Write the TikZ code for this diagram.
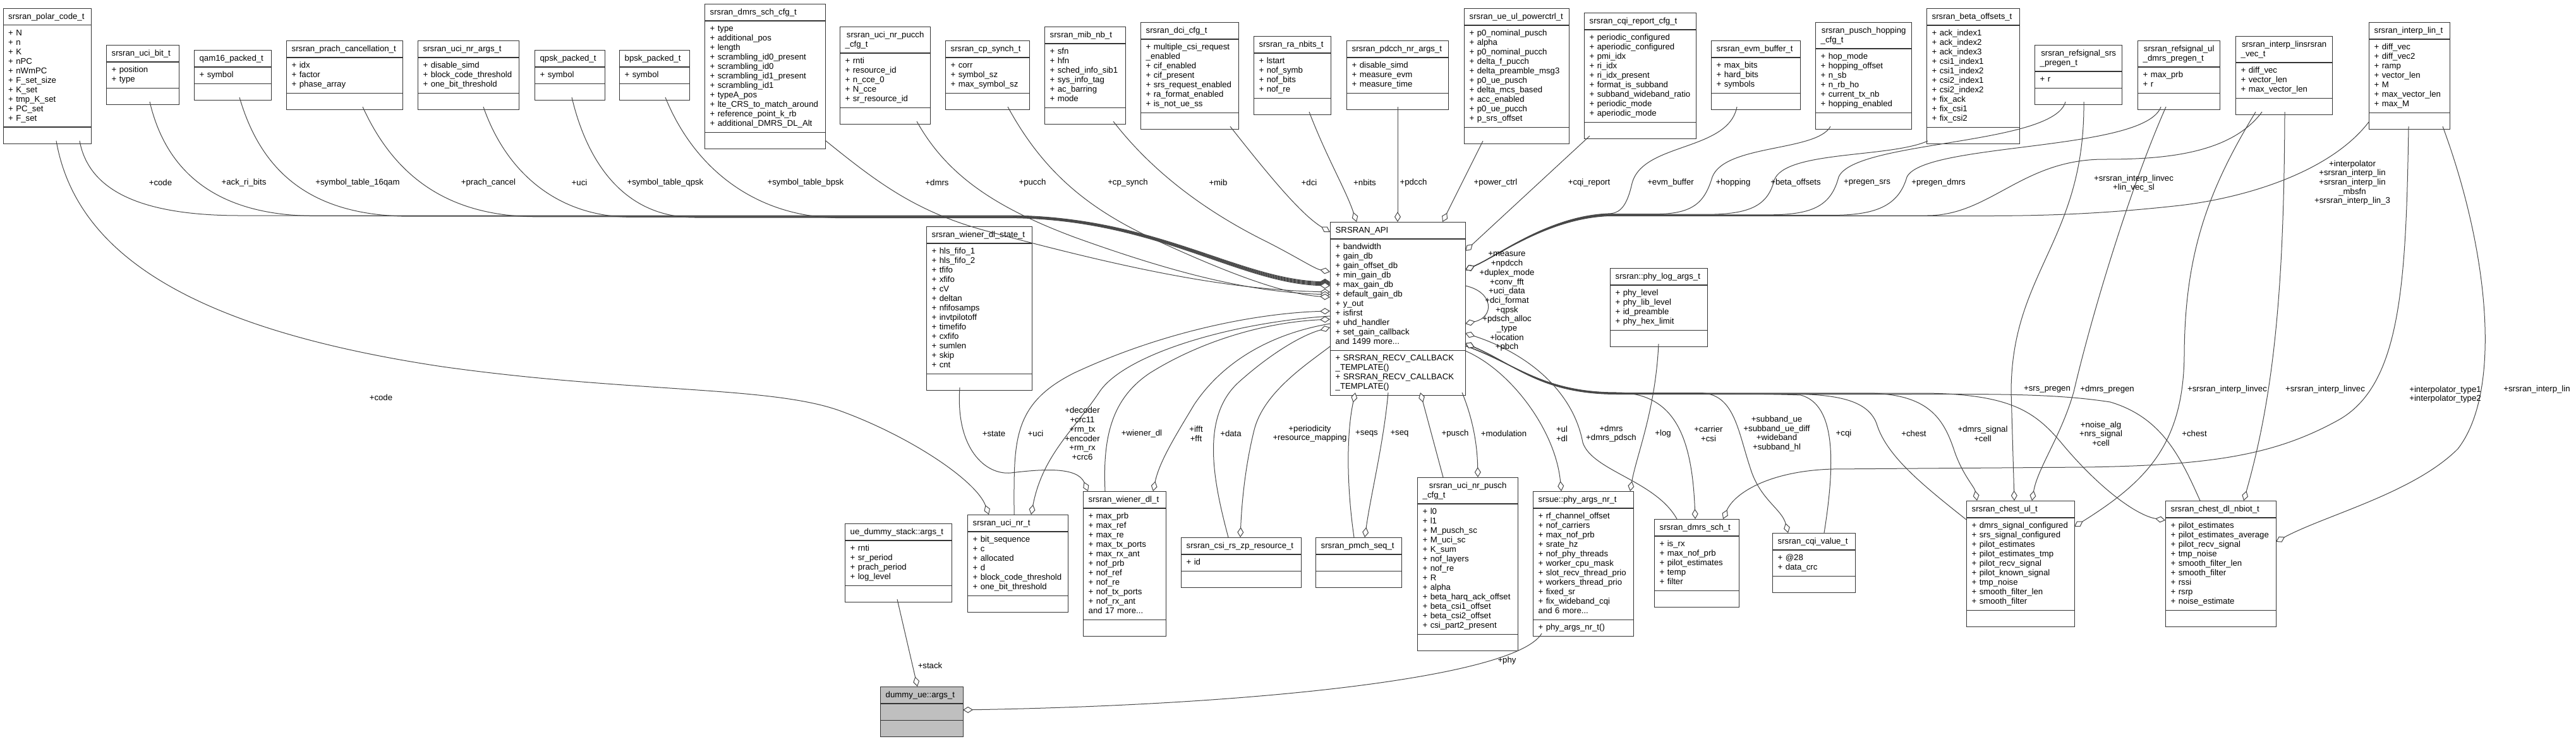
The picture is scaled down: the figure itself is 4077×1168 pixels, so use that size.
\documentclass[tikz,border=0pt]{standalone}
\usepackage{fontspec}
\setmainfont{Liberation Sans}
\usetikzlibrary{shapes.multipart,arrows.meta}
\newcommand\ms{\rule[-4pt]{0pt}{15pt}}
\tikzset{
  cls/.style={rectangle split, rectangle split parts=3, draw=black!80, line width=1.3pt,
    fill=white, inner xsep=8pt, inner ysep=5pt, text width=#1, align=left,
    anchor=north west, font=\fontsize{13.2}{15}\selectfont},
  dep/.style={draw=black!72, line width=1pt,
    -{Diamond[fill=white, length=16pt, width=10pt]}},
  lbl/.style={font=\fontsize{13.2}{14.7}\selectfont, align=center, inner sep=0pt},
}
\begin{document}
\begin{tikzpicture}[x=1pt,y=-1pt]
\fill[white] (0,0) rectangle (4077,1168);
\useasboundingbox (0,0) rectangle (4077,1168);

% ---------------- top row ----------------
\node[cls=123.5pt] (polar) at (4.5,12.7) {\centering\ms srsran\_polar\_code\_t\ms
 \nodepart{two}\ms + N\\+ n\\+ K\\+ nPC\\+ nWmPC\\+ F\_set\_size\\+ K\_set\\+ tmp\_K\_set\\+ PC\_set\\+ F\_set\ms
 \nodepart{three}\ms};
\node[cls=99pt] (ucibit) at (168,71) {\centering\ms srsran\_uci\_bit\_t\ms
 \nodepart{two}\ms + position\\+ type\ms \nodepart{three}\ms};
\node[cls=106pt] (qam) at (307,79) {\centering\ms qam16\_packed\_t\ms
 \nodepart{two}\ms + symbol\ms \nodepart{three}\ms};
\node[cls=168pt] (prach) at (453,64) {\centering\ms srsran\_prach\_cancellation\_t\ms
 \nodepart{two}\ms + idx\\+ factor\\+ phase\_array\ms \nodepart{three}\ms};
\node[cls=144pt] (ucia) at (661,64) {\centering\ms srsran\_uci\_nr\_args\_t\ms
 \nodepart{two}\ms + disable\_simd\\+ block\_code\_threshold\\+ one\_bit\_threshold\ms \nodepart{three}\ms};
\node[cls=95pt] (qpsk) at (846,79) {\centering\ms qpsk\_packed\_t\ms
 \nodepart{two}\ms + symbol\ms \nodepart{three}\ms};
\node[cls=95pt] (bpsk) at (980,79) {\centering\ms bpsk\_packed\_t\ms
 \nodepart{two}\ms + symbol\ms \nodepart{three}\ms};
\node[cls=175pt] (dmrscfg) at (1115,6) {\centering\ms srsran\_dmrs\_sch\_cfg\_t\ms
 \nodepart{two}\ms + type\\+ additional\_pos\\+ length\\+ scrambling\_id0\_present\\+ scrambling\_id0\\+ scrambling\_id1\_present\\+ scrambling\_id1\\+ typeA\_pos\\+ lte\_CRS\_to\_match\_around\\+ reference\_point\_k\_rb\\+ additional\_DMRS\_DL\_Alt\ms
 \nodepart{three}\ms};
\node[cls=127pt] (pucchcfg) at (1329,42) {\centering\ms srsran\_uci\_nr\_pucch\\\_cfg\_t\ms
 \nodepart{two}\ms + rnti\\+ resource\_id\\+ n\_cce\_0\\+ N\_cce\\+ sr\_resource\_id\ms \nodepart{three}\ms};
\node[cls=117pt] (cps) at (1496,64) {\centering\ms srsran\_cp\_synch\_t\ms
 \nodepart{two}\ms + corr\\+ symbol\_sz\\+ max\_symbol\_sz\ms \nodepart{three}\ms};
\node[cls=112pt] (mib) at (1653,42) {\centering\ms srsran\_mib\_nb\_t\ms
 \nodepart{two}\ms + sfn\\+ hfn\\+ sched\_info\_sib1\\+ sys\_info\_tag\\+ ac\_barring\\+ mode\ms \nodepart{three}\ms};
\node[cls=139pt] (dci) at (1805,35) {\centering\ms srsran\_dci\_cfg\_t\ms
 \nodepart{two}\ms + multiple\_csi\_request\\\_enabled\\+ cif\_enabled\\+ cif\_present\\+ srs\_request\_enabled\\+ ra\_format\_enabled\\+ is\_not\_ue\_ss\ms \nodepart{three}\ms};
\node[cls=106pt] (ranb) at (1984,57) {\centering\ms srsran\_ra\_nbits\_t\ms
 \nodepart{two}\ms + lstart\\+ nof\_symb\\+ nof\_bits\\+ nof\_re\ms \nodepart{three}\ms};
\node[cls=145pt] (pdcch) at (2131,64) {\centering\ms srsran\_pdcch\_nr\_args\_t\ms
 \nodepart{two}\ms + disable\_simd\\+ measure\_evm\\+ measure\_time\ms \nodepart{three}\ms};
\node[cls=150pt] (pwr) at (2317,13) {\centering\ms srsran\_ue\_ul\_powerctrl\_t\ms
 \nodepart{two}\ms + p0\_nominal\_pusch\\+ alpha\\+ p0\_nominal\_pucch\\+ delta\_f\_pucch\\+ delta\_preamble\_msg3\\+ p0\_ue\_pusch\\+ delta\_mcs\_based\\+ acc\_enabled\\+ p0\_ue\_pucch\\+ p\_srs\_offset\ms
 \nodepart{three}\ms};
\node[cls=161pt] (cqir) at (2507,20) {\centering\ms srsran\_cqi\_report\_cfg\_t\ms
 \nodepart{two}\ms + periodic\_configured\\+ aperiodic\_configured\\+ pmi\_idx\\+ ri\_idx\\+ ri\_idx\_present\\+ format\_is\_subband\\+ subband\_wideband\_ratio\\+ periodic\_mode\\+ aperiodic\_mode\ms
 \nodepart{three}\ms};
\node[cls=125pt] (evm) at (2708,64) {\centering\ms srsran\_evm\_buffer\_t\ms
 \nodepart{two}\ms + max\_bits\\+ hard\_bits\\+ symbols\ms \nodepart{three}\ms};
\node[cls=136pt] (hop) at (2873,35) {\centering\ms srsran\_pusch\_hopping\\\_cfg\_t\ms
 \nodepart{two}\ms + hop\_mode\\+ hopping\_offset\\+ n\_sb\\+ n\_rb\_ho\\+ current\_tx\_nb\\+ hopping\_enabled\ms \nodepart{three}\ms};
\node[cls=131pt] (beta) at (3049,13) {\centering\ms srsran\_beta\_offsets\_t\ms
 \nodepart{two}\ms + ack\_index1\\+ ack\_index2\\+ ack\_index3\\+ csi1\_index1\\+ csi1\_index2\\+ csi2\_index1\\+ csi2\_index2\\+ fix\_ack\\+ fix\_csi1\\+ fix\_csi2\ms
 \nodepart{three}\ms};
\node[cls=122pt] (srsp) at (3220,71) {\centering\ms srsran\_refsignal\_srs\\\_pregen\_t\ms
 \nodepart{two}\ms + r\ms \nodepart{three}\ms};
\node[cls=114pt] (dmrsp) at (3383,64) {\centering\ms srsran\_refsignal\_ul\\\_dmrs\_pregen\_t\ms
 \nodepart{two}\ms + max\_prb\\+ r\ms \nodepart{three}\ms};
\node[cls=137pt] (linvec) at (3538,57) {\centering\ms srsran\_interp\_linsrsran\\\_vec\_t\ms
 \nodepart{two}\ms + diff\_vec\\+ vector\_len\\+ max\_vector\_len\ms \nodepart{three}\ms};
\node[cls=112pt] (ilin) at (3749,35) {\centering\ms srsran\_interp\_lin\_t\ms
 \nodepart{two}\ms + diff\_vec\\+ diff\_vec2\\+ ramp\\+ vector\_len\\+ M\\+ max\_vector\_len\\+ max\_M\ms \nodepart{three}\ms};

% ---------------- middle ----------------
\node[cls=198pt] (api) at (2105,351) {\centering\ms SRSRAN\_API\ms
 \nodepart{two}\ms + bandwidth\\+ gain\_db\\+ gain\_offset\_db\\+ min\_gain\_db\\+ max\_gain\_db\\+ default\_gain\_db\\+ y\_out\\+ isfirst\\+ uhd\_handler\\+ set\_gain\_callback\\and 1499 more...\ms
 \nodepart{three}\ms + SRSRAN\_RECV\_CALLBACK\\\_TEMPLATE()\\+ SRSRAN\_RECV\_CALLBACK\\\_TEMPLATE()\ms};
\node[cls=151pt] (wst) at (1466,358) {\centering\ms srsran\_wiener\_dl\_state\_t\ms
 \nodepart{two}\ms + hls\_fifo\_1\\+ hls\_fifo\_2\\+ tfifo\\+ xfifo\\+ cV\\+ deltan\\+ nfifosamps\\+ invtpilotoff\\+ timefifo\\+ cxfifo\\+ sumlen\\+ skip\\+ cnt\ms
 \nodepart{three}\ms};
\node[cls=138pt] (plog) at (2548,424) {\centering\ms srsran::phy\_log\_args\_t\ms
 \nodepart{two}\ms + phy\_level\\+ phy\_lib\_level\\+ id\_preamble\\+ phy\_hex\_limit\ms \nodepart{three}\ms};

% ---------------- bottom row ----------------
\node[cls=153pt] (dstack) at (1337,828) {\centering\ms ue\_dummy\_stack::args\_t\ms
 \nodepart{two}\ms + rnti\\+ sr\_period\\+ prach\_period\\+ log\_level\ms \nodepart{three}\ms};
\node[cls=143pt] (ucinr) at (1531,814) {\centering\ms srsran\_uci\_nr\_t\ms
 \nodepart{two}\ms + bit\_sequence\\+ c\\+ allocated\\+ d\\+ block\_code\_threshold\\+ one\_bit\_threshold\ms \nodepart{three}\ms};
\node[cls=115pt] (wdl) at (1714,777) {\centering\ms srsran\_wiener\_dl\_t\ms
 \nodepart{two}\ms + max\_prb\\+ max\_ref\\+ max\_re\\+ max\_tx\_ports\\+ max\_rx\_ant\\+ nof\_prb\\+ nof\_ref\\+ nof\_re\\+ nof\_tx\_ports\\+ nof\_rx\_ant\\and 17 more...\ms
 \nodepart{three}\ms};
\node[cls=174pt] (csizp) at (1869,850) {\centering\ms srsran\_csi\_rs\_zp\_resource\_t\ms
 \nodepart{two}\ms + id\ms \nodepart{three}\ms};
\node[cls=120pt] (pmch) at (2082,850) {\centering\ms srsran\_pmch\_seq\_t\ms
 \nodepart{two}\ms \nodepart{three}\ms};
\node[cls=143pt] (pusch) at (2243,755) {\centering\ms srsran\_uci\_nr\_pusch\\\_cfg\_t\ms
 \nodepart{two}\ms + l0\\+ l1\\+ M\_pusch\_sc\\+ M\_uci\_sc\\+ K\_sum\\+ nof\_layers\\+ nof\_re\\+ R\\+ alpha\\+ beta\_harq\_ack\_offset\\+ beta\_csi1\_offset\\+ beta\_csi2\_offset\\+ csi\_part2\_present\ms
 \nodepart{three}\ms};
\node[cls=143pt] (phya) at (2426,777) {\centering\ms srsue::phy\_args\_nr\_t\ms
 \nodepart{two}\ms + rf\_channel\_offset\\+ nof\_carriers\\+ max\_nof\_prb\\+ srate\_hz\\+ nof\_phy\_threads\\+ worker\_cpu\_mask\\+ slot\_recv\_thread\_prio\\+ workers\_thread\_prio\\+ fixed\_sr\\+ fix\_wideband\_cqi\\and 6 more...\ms
 \nodepart{three}\ms + phy\_args\_nr\_t()\ms};
\node[cls=118pt] (dsch) at (2618,821) {\centering\ms srsran\_dmrs\_sch\_t\ms
 \nodepart{two}\ms + is\_rx\\+ max\_nof\_prb\\+ pilot\_estimates\\+ temp\\+ filter\ms \nodepart{three}\ms};
\node[cls=115pt] (cqiv) at (2805,843) {\centering\ms srsran\_cqi\_value\_t\ms
 \nodepart{two}\ms + @28\\+ data\_crc\ms \nodepart{three}\ms};
\node[cls=155pt] (chul) at (3112,792) {\centering\ms srsran\_chest\_ul\_t\ms
 \nodepart{two}\ms + dmrs\_signal\_configured\\+ srs\_signal\_configured\\+ pilot\_estimates\\+ pilot\_estimates\_tmp\\+ pilot\_recv\_signal\\+ pilot\_known\_signal\\+ tmp\_noise\\+ smooth\_filter\_len\\+ smooth\_filter\ms
 \nodepart{three}\ms};
\node[cls=159pt] (nbiot) at (3427,792) {\centering\ms srsran\_chest\_dl\_nbiot\_t\ms
 \nodepart{two}\ms + pilot\_estimates\\+ pilot\_estimates\_average\\+ pilot\_recv\_signal\\+ tmp\_noise\\+ smooth\_filter\_len\\+ smooth\_filter\\+ rssi\\+ rsrp\\+ noise\_estimate\ms
 \nodepart{three}\ms};
\node[cls=115pt, fill=black!25] (dummy) at (1393,1086) {\centering\ms dummy\_ue::args\_t\ms
 \nodepart{two}\ms \nodepart{three}\ms};

% ---------------- edges: top-left bundle into API ----------------
\draw[dep] ([shift={(121.5,210)}]polar.north west) .. controls (140,300) and (220,341) .. (380,341) -- (1600,341) .. controls (1830,343) and (1960,442) .. ([shift={(0,95)}]api.north west);
\draw[dep] ([shift={(69,90)}]ucibit.north west) .. controls (260,260) and (330,341.6) .. (500,341.6) -- (1600,341.6) .. controls (1830,343.6) and (1960,443) .. ([shift={(0,96)}]api.north west);
\draw[dep] ([shift={(72,75)}]qam.north west) .. controls (410,260) and (480,342.2) .. (650,342.2) -- (1600,342.2) .. controls (1830,344.2) and (1960,444) .. ([shift={(0,97)}]api.north west);
\draw[dep] ([shift={(121,105)}]prach.north west) .. controls (620,270) and (700,342.8) .. (850,342.8) -- (1600,342.8) .. controls (1830,344.8) and (1960,445) .. ([shift={(0,98)}]api.north west);
\draw[dep] ([shift={(104,105)}]ucia.north west) .. controls (800,270) and (880,343.4) .. (1000,343.4) -- (1600,343.4) .. controls (1830,345.4) and (1960,446) .. ([shift={(0,99)}]api.north west);
\draw[dep] ([shift={(59,75)}]qpsk.north west) .. controls (930,260) and (990,344) .. (1100,344) -- (1600,344) .. controls (1830,346) and (1960,447) .. ([shift={(0,100)}]api.north west);
\draw[dep] ([shift={(73,75)}]bpsk.north west) .. controls (1100,270) and (1200,344.6) .. (1330,344.6) -- (1600,344.6) .. controls (1830,346.6) and (1960,448) .. ([shift={(0,101)}]api.north west);
\draw[dep] ([shift={(191,216)}]dmrscfg.north west) .. controls (1390,290) and (1450,335) .. (1560,365) .. controls (1800,430) and (1950,458) .. ([shift={(0,111)}]api.north west);
\draw[dep] ([shift={(122,150)}]pucchcfg.north west) .. controls (1500,280) and (1580,330) .. (1700,375) .. controls (1880,440) and (1990,462) .. ([shift={(0,115)}]api.north west);
\draw[dep] ([shift={(99,105)}]cps.north west) .. controls (1650,270) and (1720,330) .. (1830,380) .. controls (1960,440) and (2040,466) .. ([shift={(0,119)}]api.north west);
\draw[dep] ([shift={(109,150)}]mib.north west) .. controls (1830,280) and (1920,340) .. (2000,380) .. controls (2050,405) and (2080,425) .. ([shift={(0,79)}]api.north west);
\draw[dep] ([shift={(142,165)}]dci.north west) .. controls (2010,280) and (2060,340) .. ([shift={(0,16)}]api.north west);
\draw[dep] ([shift={(88,120)}]ranb.north west) .. controls (2100,250) and (2130,300) .. ([shift={(42,0)}]api.north west);
\draw[dep] ([shift={(81,105)}]pdcch.north west) -- ([shift={(107,0)}]api.north west);
\draw[dep] ([shift={(30,210)}]pwr.north west) -- ([shift={(178,0)}]api.north west);

% ---------------- edges: top-right bundle into API ----------------
\draw[dep] ([shift={(9,195)}]cqir.north west) -- ([shift={(214,46)}]api.north west);
\draw[dep] ([shift={(41,105)}]evm.north west) .. controls (2735,240) and (2600,225) .. (2583,290) .. controls (2575,325) and (2565,338) .. (2545,338) .. controls (2450,342) and (2370,405) .. ([shift={(214,76)}]api.north west);
\draw[dep] ([shift={(24,165)}]hop.north west) .. controls (2875,240) and (2730,228) .. (2710,280) .. controls (2698,320) and (2680,338.6) .. (2620,338.6) -- (2545,338.6) .. controls (2450,342.6) and (2370,405) .. ([shift={(214,76)}]api.north west);
\draw[dep] ([shift={(2,210)}]beta.north west) .. controls (2990,250) and (2825,238) .. (2808,285) .. controls (2798,325) and (2770,339.2) .. (2700,339.2) -- (2545,339.2) .. controls (2450,343.2) and (2370,405) .. ([shift={(214,76)}]api.north west);
\draw[dep] ([shift={(49,90)}]srsp.north west) .. controls (3250,230) and (2935,222) .. (2910,280) .. controls (2898,325) and (2870,339.8) .. (2800,339.8) -- (2545,339.8) .. controls (2450,343.8) and (2370,405) .. ([shift={(214,76)}]api.north west);
\draw[dep] ([shift={(37,105)}]dmrsp.north west) .. controls (3395,240) and (3045,225) .. (3018,280) .. controls (3005,325) and (2970,340.4) .. (2900,340.4) -- (2545,340.4) .. controls (2450,344.4) and (2370,405) .. ([shift={(214,76)}]api.north west);
\draw[dep] ([shift={(42,120)}]linvec.north west) .. controls (3530,245) and (3420,252) .. (3330,252) .. controls (3200,252) and (3150,341) .. (3050,341) -- (2545,341) .. controls (2450,345) and (2370,405) .. ([shift={(214,76)}]api.north west);
\draw[dep] ([shift={(0,158)}]ilin.north west) .. controls (3690,270) and (3560,312) .. (3450,325) .. controls (3300,341.6) and (3200,341.6) .. (3100,341.6) -- (2545,341.6) .. controls (2450,345.6) and (2370,405) .. ([shift={(214,76)}]api.north west);

% self loop
\draw[dep] ([shift={(214,101)}]api.north west) .. controls (2365,462) and (2365,502) .. ([shift={(214,161)}]api.north west);

% ---------------- edges: lower right ----------------
\draw[dep] ([shift={(214,204)}]api.north west) .. controls (2390,585) and (2462,680) .. ([shift={(45,0)}]phya.north west);
\draw[dep] ([shift={(36,0)}]dsch.north west) .. controls (2620,760) and (2520,745) .. (2505,700) .. controls (2490,620) and (2420,560) .. ([shift={(214,176)}]api.north west);
\draw[dep] ([shift={(77,120)}]plog.north west) .. controls (2620,650) and (2590,720) .. ([shift={(154,0)}]phya.north west);
\draw[dep] ([shift={(214,196)}]api.north west) .. controls (2400,575) and (2440,621) .. (2560,621) .. controls (2650,622) and (2678,690) .. ([shift={(65,0)}]dsch.north west);
\draw[dep] ([shift={(214,196)}]api.north west) .. controls (2400,575) and (2440,621.5) .. (2560,621.5) -- (2690,621.5) .. controls (2745,622) and (2750,680) .. (2770,740) .. controls (2785,790) and (2820,805) .. ([shift={(25,0)}]cqiv.north west);
\draw[dep] ([shift={(82,0)}]cqiv.north west) .. controls (2905,730) and (2905,640) .. (2850,625) .. controls (2800,622.5) and (2650,622.5) .. (2560,622.5) .. controls (2440,622.5) and (2400,578) .. ([shift={(214,192)}]api.north west);
\draw[dep] ([shift={(0,30)}]chul.north west) .. controls (3040,765) and (2985,720) .. (2970,670) .. controls (2955,630) and (2900,623) .. (2820,623) -- (2560,623) .. controls (2440,623) and (2400,578) .. ([shift={(214,192)}]api.north west);
\draw[dep] ([shift={(214,196)}]api.north west) .. controls (2400,575) and (2440,622) .. (2560,622) -- (2960,622) .. controls (3050,624) and (3075,660) .. (3092,710) .. controls (3105,750) and (3125,770) .. ([shift={(17,0)}]chul.north west);
\draw[dep] ([shift={(78,90)}]srsp.north west) .. controls (3300,380) and (3183,430) .. (3183,620) -- ([shift={(76,0)}]chul.north west);
\draw[dep] ([shift={(45,105)}]dmrsp.north west) .. controls (3370,300) and (3310,500) .. (3282,620) .. controls (3262,690) and (3225,740) .. ([shift={(104,0)}]chul.north west);
\draw[dep] ([shift={(32,120)}]linvec.north west) .. controls (3495,300) and (3458,400) .. (3457,560) .. controls (3456,700) and (3400,760) .. ([shift={(171,41)}]chul.north west);
\draw[dep] ([shift={(214,196)}]api.north west) .. controls (2400,575) and (2440,622) .. (2560,622) -- (3050,622) .. controls (3180,624) and (3220,650) .. (3262,700) .. controls (3320,770) and (3380,815) .. ([shift={(0,31)}]nbiot.north west);
\draw[dep] ([shift={(55,0)}]nbiot.north west) .. controls (3450,720) and (3420,660) .. (3340,636) .. controls (3250,622) and (3150,623.5) .. (3000,623.5) -- (2560,623.5) .. controls (2440,623.5) and (2400,578) .. ([shift={(214,192)}]api.north west);
\draw[dep] ([shift={(78,120)}]linvec.north west) .. controls (3615,450) and (3600,620) .. ([shift={(124,0)}]nbiot.north west);
\draw[dep] ([shift={(63,165)}]ilin.north west) .. controls (3808,450) and (3800,610) .. (3700,665) .. controls (3600,720) and (3500,736) .. (3300,739) -- (2900,742) .. controls (2800,745) and (2745,780) .. ([shift={(109,0)}]dsch.north west);
\draw[dep] ([shift={(117,165)}]ilin.north west) .. controls (3940,400) and (3960,620) .. (3890,710) .. controls (3820,780) and (3680,815) .. ([shift={(175,65)}]nbiot.north west);

% ---------------- edges: lower left ----------------
\draw[dep] ([shift={(84.5,210)}]polar.north west) .. controls (120,400) and (300,520) .. (700,580) .. controls (1000,622) and (1220,610) .. (1330,650) .. controls (1440,690) and (1545,760) .. ([shift={(34,0)}]ucinr.north west);
\draw[dep] ([shift={(53,255)}]wst.north west) .. controls (1512,710) and (1560,752) .. (1600,748) .. controls (1650,742) and (1705,738) .. ([shift={(8,0)}]wdl.north west);
\draw[dep] ([shift={(74,0)}]ucinr.north west) .. controls (1605,700) and (1600,640) .. (1700,590) .. controls (1850,520) and (2000,495) .. ([shift={(0,141)}]api.north west);
\draw[dep] ([shift={(0,149)}]api.north west) .. controls (1950,510) and (1780,560) .. (1740,620) .. controls (1700,680) and (1650,720) .. ([shift={(101,0)}]ucinr.north west);
\draw[dep] ([shift={(35,0)}]wdl.north west) .. controls (1745,690) and (1760,630) .. (1820,590) .. controls (1900,540) and (2000,510) .. ([shift={(0,154)}]api.north west);
\draw[dep] ([shift={(0,161)}]api.north west) .. controls (2000,530) and (1930,580) .. (1890,640) .. controls (1860,690) and (1835,730) .. ([shift={(111,0)}]wdl.north west);
\draw[dep] ([shift={(75,0)}]csizp.north west) .. controls (1920,760) and (1900,660) .. (1960,605) .. controls (2010,560) and (2060,530) .. ([shift={(0,167)}]api.north west);
\draw[dep] ([shift={(0,197)}]api.north west) .. controls (2070,575) and (2000,620) .. (1985,680) .. controls (1970,740) and (1965,800) .. ([shift={(94,0)}]csizp.north west);
\draw[dep] ([shift={(61,0)}]pmch.north west) .. controls (2130,760) and (2132,680) .. ([shift={(40,270)}]api.north west);
\draw[dep] ([shift={(92,270)}]api.north west) .. controls (2190,700) and (2170,780) .. ([shift={(78,0)}]pmch.north west);
\draw[dep] ([shift={(41,0)}]pusch.north west) -- ([shift={(143,270)}]api.north west);
\draw[dep] ([shift={(209,270)}]api.north west) .. controls (2330,660) and (2338,700) .. ([shift={(96,0)}]pusch.north west);
\draw[dep] ([shift={(83,120)}]dstack.north west) -- ([shift={(59,0)}]dummy.north west);
\draw[dep] ([shift={(14,225)}]phya.north west) .. controls (2400,1070) and (2000,1115) .. ([shift={(131,37)}]dummy.north west);

% ---------------- labels ----------------
\node[lbl] (t1) at (254,289) {+code};
\node[lbl] (t2) at (386,289) {+ack\_ri\_bits};
\node[lbl] (t3) at (566,289) {+symbol\_table\_16qam};
\node[lbl] (t4) at (773,289) {+prach\_cancel};
\node[lbl] (t5) at (917,289) {+uci};
\node[lbl] (t6) at (1053,289) {+symbol\_table\_qpsk};
\node[lbl] (t7) at (1275,289) {+symbol\_table\_bpsk};
\node[lbl] (t8) at (1483,289) {+dmrs};
\node[lbl] (t9) at (1634,289) {+pucch};
\node[lbl] (t10) at (1785,289) {+cp\_synch};
\node[lbl] (t11) at (1928,289) {+mib};
\node[lbl] (t12) at (2072,289) {+dci};
\node[lbl] (t13) at (2160,289) {+nbits};
\node[lbl] (t14) at (2237,289) {+pdcch};
\node[lbl] (t15) at (2367,289) {+power\_ctrl};
\node[lbl] (t16) at (2515,289) {+cqi\_report};
\node[lbl] (t17) at (2644,289) {+evm\_buffer};
\node[lbl] (t18) at (2743,289) {+hopping};
\node[lbl] (t19) at (2842,289) {+beta\_offsets};
\node[lbl] (t20) at (2955,289) {+pregen\_srs};
\node[lbl] (t21) at (3068,289) {+pregen\_dmrs};
\node[lbl] (t22) at (3377,290) {+srsran\_interp\_linvec\\+lin\_vec\_sl};
\node[lbl] (t23) at (3723,289) {+interpolator\\+srsran\_interp\_lin\\+srsran\_interp\_lin\\\_mbsfn\\+srsran\_interp\_lin\_3};
\node[lbl] (t24) at (2385,477) {+measure\\+npdcch\\+duplex\_mode\\+conv\_fft\\+uci\_data\\+dci\_format\\+qpsk\\+pdsch\_alloc\\\_type\\+location\\+pbch};
\node[lbl] (b0) at (603,629) {+code};
\node[lbl] (b1) at (1573,686) {+state};
\node[lbl] (b2) at (1639,686) {+uci};
\node[lbl] (b3) at (1713,686) {+decoder\\+crc11\\+rm\_tx\\+encoder\\+rm\_rx\\+crc6};
\node[lbl] (b4) at (1807,686) {+wiener\_dl};
\node[lbl] (b5) at (1893,686) {+ifft\\+fft};
\node[lbl] (b6) at (1948,686) {+data};
\node[lbl] (b7) at (2073,686) {+periodicity\\+resource\_mapping};
\node[lbl] (b8) at (2163,686) {+seqs};
\node[lbl] (b9) at (2215,686) {+seq};
\node[lbl] (b10) at (2303,686) {+pusch};
\node[lbl] (b11) at (2380,686) {+modulation};
\node[lbl] (b12) at (2472,686) {+ul\\+dl};
\node[lbl] (b13) at (2550,686) {+dmrs\\+dmrs\_pdsch};
\node[lbl] (b14) at (2632,686) {+log};
\node[lbl] (b15) at (2704,686) {+carrier\\+csi};
\node[lbl] (b16) at (2812,686) {+subband\_ue\\+subband\_ue\_diff\\+wideband\\+subband\_hl};
\node[lbl] (b17) at (2918,686) {+cqi};
\node[lbl] (b18) at (3029,686) {+chest};
\node[lbl] (b19) at (3138,686) {+dmrs\_signal\\+cell};
\node[lbl] (b20) at (3325,686) {+noise\_alg\\+nrs\_signal\\+cell};
\node[lbl] (b21) at (3473,686) {+chest};
\node[lbl] (r1) at (3240,616) {+srs\_pregen};
\node[lbl] (r2) at (3335,616) {+dmrs\_pregen};
\node[lbl] (r3) at (3525,616) {+srsran\_interp\_linvec};
\node[lbl] (r4) at (3680,616) {+srsran\_interp\_linvec};
\node[lbl] (r5) at (3870,624) {+interpolator\_type1\\+interpolator\_type2};
\node[lbl] (r6) at (4015,616) {+srsran\_interp\_lin};
\node[lbl] (s1) at (1472,1053) {+stack};
\node[lbl] (s2) at (2385,1045) {+phy};
\end{tikzpicture}
\end{document}
